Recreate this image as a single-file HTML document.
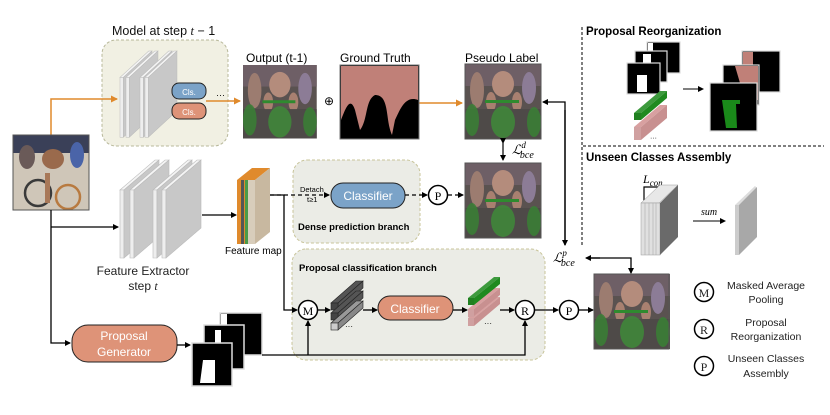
<!DOCTYPE html>
<html><head><meta charset="utf-8"><style>
html,body{margin:0;padding:0;background:#fff;}
svg{display:block;font-family:"Liberation Sans",sans-serif;}
</style></head><body>
<svg width="830" height="415" viewBox="0 0 830 415" xmlns="http://www.w3.org/2000/svg">
<defs>
<marker id="ab" markerWidth="6" markerHeight="6" refX="5" refY="3" orient="auto" markerUnits="userSpaceOnUse"><path d="M0,0 L6,3 L0,6 z" fill="#000"/></marker>
<marker id="ao" markerWidth="7" markerHeight="7" refX="6" refY="3.5" orient="auto" markerUnits="userSpaceOnUse"><path d="M0,0 L7,3.5 L0,7 z" fill="#e08a2c"/></marker>
<g id="photo">
<rect x="0" y="0" width="76" height="75" fill="#5a5250"/>
<rect x="0" y="0" width="76" height="22" fill="#6e5f66"/>
<ellipse cx="38" cy="20" rx="11" ry="13" fill="#b48c7c"/>
<ellipse cx="12" cy="26" rx="7" ry="18" fill="#9c7c70"/>
<ellipse cx="64" cy="24" rx="7" ry="16" fill="#8c7c96"/>
<ellipse cx="26" cy="38" rx="5" ry="10" fill="#a88070"/>
<ellipse cx="52" cy="38" rx="5" ry="10" fill="#a88070"/>
<rect x="0" y="45" width="76" height="30" fill="#4e4a48"/>
<ellipse cx="38" cy="58" rx="12" ry="16" fill="#3f8a3a" opacity="0.85"/>
<ellipse cx="7" cy="56" rx="7" ry="16" fill="#3a8035" opacity="0.85"/>
<ellipse cx="69" cy="58" rx="7" ry="15" fill="#3a8035" opacity="0.85"/>
<rect x="20" y="36" width="34" height="3" fill="#2f8a2f"/>
</g>
<g id="slab">
<polygon points="0,30 4,30 39,0 35,0" fill="#f4f4f4" stroke="#bbb" stroke-width="0.6"/>
<polygon points="0,30 4,30 4,98 0,98" fill="#eee" stroke="#bbb" stroke-width="0.6"/>
<polygon points="4,30 39,0 39,68 4,98" fill="#c8c8c8" stroke="#bbb" stroke-width="0.6"/>
</g>
</defs>

<!-- Model at step t-1 -->
<text x="112" y="35" font-size="12.5" fill="#111">Model at step <tspan font-family="Liberation Serif" font-style="italic">t</tspan> − 1</text>
<rect x="102" y="40" width="126" height="106" rx="14" fill="#f1f0e3" stroke="#b8b89a" stroke-dasharray="3,2"/>
<g transform="translate(120,51) scale(0.82,0.88)"><use href="#slab"/></g>
<g transform="translate(126,51) scale(0.82,0.88)"><use href="#slab"/></g>
<g transform="translate(140,51) scale(0.82,0.88)"><use href="#slab"/></g>
<g transform="translate(145,51) scale(0.82,0.88)"><use href="#slab"/></g>
<rect x="172" y="83" width="34" height="16" rx="7" fill="#7ba3c8" stroke="#222" stroke-width="1"/>
<text x="189" y="95" font-size="8" fill="#fff" text-anchor="middle">Cls.</text>
<rect x="172" y="103" width="34" height="16" rx="7" fill="#de9378" stroke="#222" stroke-width="1"/>
<text x="189" y="115" font-size="8" fill="#fff" text-anchor="middle">Cls.</text>
<text x="216" y="98" font-size="9">···</text>

<!-- orange arrows -->
<polyline points="51,135 51,99 117,99" fill="none" stroke="#e08a2c" stroke-width="1.5" marker-end="url(#ao)"/>
<line x1="206" y1="101" x2="240" y2="101" stroke="#e08a2c" stroke-width="1.5" marker-end="url(#ao)"/>
<line x1="419" y1="103" x2="462" y2="103" stroke="#e08a2c" stroke-width="1.5" marker-end="url(#ao)"/>

<!-- Output, GT -->
<text x="246" y="62" font-size="12">Output (t-1)</text>
<g transform="translate(243,65) scale(0.97,0.98)"><use href="#photo"/></g>
<text x="329" y="105" font-size="12" text-anchor="middle">⊕</text>
<text x="340" y="62" font-size="12">Ground Truth</text>
<rect x="340" y="65" width="79" height="74" fill="#000" stroke="#777"/>
<path d="M341,66 H418 V100 C405,95 400,110 395,120 L392,135 C385,120 390,95 375,95 C365,100 368,120 360,130 L355,110 C350,95 345,110 341,120 Z" fill="#c08078"/>

<!-- Pseudo label -->
<text x="465" y="62" font-size="12">Pseudo Label</text>
<use href="#photo" x="465" y="64"/>
<rect x="465" y="64" width="76" height="75" fill="none" stroke="#555"/>
<line x1="503" y1="143" x2="503" y2="160" stroke="#000" stroke-width="1.2" marker-start="url(#ab)" marker-end="url(#ab)"/>
<text x="512" y="154" font-size="13" font-family="Liberation Serif" font-style="italic">ℒ<tspan font-size="9" dy="-6">d</tspan><tspan font-size="10" dx="-6" dy="10">bce</tspan></text>
<use href="#photo" x="465" y="163"/>
<rect x="465" y="163" width="76" height="75" fill="none" stroke="#555"/>

<!-- input image -->
<g transform="translate(13,135)"><rect width="76" height="75" fill="#cfc6b8"/><rect width="76" height="18" fill="#3a4058"/><ellipse cx="40" cy="24" rx="11" ry="10" fill="#9a6a4c"/><ellipse cx="64" cy="20" rx="7" ry="13" fill="#4a64a8"/><ellipse cx="14" cy="22" rx="8" ry="12" fill="#6a5a58"/><circle cx="25" cy="58" r="13" fill="none" stroke="#3a3a3a" stroke-width="2.5"/><circle cx="55" cy="62" r="12" fill="none" stroke="#b87a40" stroke-width="2.5"/><rect x="32" y="38" width="5" height="30" fill="#a87858"/></g>
<rect x="13" y="135" width="76" height="75" fill="none" stroke="#555"/>

<!-- feature extractor -->
<g transform="translate(120,160)"><use href="#slab"/></g>
<g transform="translate(130,160)"><use href="#slab"/></g>
<g transform="translate(153,160)"><use href="#slab"/></g>
<g transform="translate(162,160)"><use href="#slab"/></g>
<text x="143" y="275" font-size="12" text-anchor="middle" fill="#222">Feature Extractor</text>
<text x="143" y="290" font-size="12" text-anchor="middle" fill="#222">step <tspan font-family="Liberation Serif" font-style="italic">t</tspan></text>
<polyline points="51,210 51,343 70,343" fill="none" stroke="#000" stroke-width="1.3" marker-end="url(#ab)"/>
<line x1="51" y1="227" x2="118" y2="227" stroke="#000" stroke-width="1.3" marker-end="url(#ab)"/>
<line x1="202" y1="215" x2="236" y2="215" stroke="#000" stroke-width="1.3" marker-end="url(#ab)"/>

<!-- feature map -->
<polygon points="237,180 252,168 270,168 255,180" fill="#e08a2c"/>
<rect x="237" y="180" width="18" height="64" fill="#e08a2c"/>
<rect x="241" y="180" width="3" height="64" fill="#555"/>
<rect x="245" y="180" width="3" height="64" fill="#4a9a4a"/>
<polygon points="255,180 270,168 270,232 255,244" fill="#c8b8a0"/>
<rect x="248" y="180" width="7" height="64" fill="#d8cdbb"/>
<text x="225" y="254" font-size="10">Feature map</text>

<!-- dense branch -->
<rect x="293" y="160" width="127" height="83" rx="14" fill="#ebece6" stroke="#c8c49a" stroke-dasharray="3,2"/>
<line x1="270" y1="195" x2="329" y2="195" stroke="#000" stroke-width="1.3" stroke-dasharray="4,3" marker-end="url(#ab)"/>
<text x="300" y="192" font-size="7.5">Detach</text>
<text x="307" y="202" font-size="7.5">t≥1</text>
<rect x="331" y="183" width="74" height="25" rx="12" fill="#7ba3c8" stroke="#222"/>
<text x="368" y="200" font-size="12" fill="#fff" text-anchor="middle">Classifier</text>
<line x1="405" y1="195" x2="427" y2="195" stroke="#000" stroke-width="1.3" stroke-dasharray="4,3" marker-end="url(#ab)"/>
<circle cx="438" cy="195" r="9.5" fill="#fff" stroke="#000" stroke-width="1.5"/>
<text x="438" y="200" font-size="12" font-family="Liberation Serif" text-anchor="middle">P</text>
<line x1="448" y1="195" x2="463" y2="195" stroke="#000" stroke-width="1.3" stroke-dasharray="4,3" marker-end="url(#ab)"/>
<text x="298" y="230" font-size="9.5" font-weight="bold">Dense prediction branch</text>

<!-- proposal branch -->
<rect x="292" y="249" width="253" height="111" rx="14" fill="#ebece6" stroke="#c8c49a" stroke-dasharray="3,2"/>
<text x="299" y="271" font-size="9.5" font-weight="bold">Proposal classification branch</text>
<polyline points="270,195 284,195 284,310 297,310" fill="none" stroke="#000" stroke-width="1.3" marker-end="url(#ab)"/>
<circle cx="308" cy="310" r="9.5" fill="#fff" stroke="#000" stroke-width="1.5"/>
<text x="308" y="315" font-size="12" font-family="Liberation Serif" text-anchor="middle">M</text>
<line x1="318" y1="310" x2="330" y2="310" stroke="#000" stroke-width="1.3" marker-end="url(#ab)"/>
<g fill="#555" stroke="#222" stroke-width="0.6">
<polygon points="331,303 356,281 363,281 338,303"/><polygon points="338,303 363,281 363,288 338,310"/><rect x="331" y="303" width="7" height="7" fill="#444"/>
<polygon points="331,313 356,291 363,291 338,313"/><polygon points="338,313 363,291 363,298 338,320"/><rect x="331" y="313" width="7" height="7" fill="#444"/>
<polygon points="331,323 356,301 363,301 338,323" fill="#999"/><polygon points="338,323 363,301 363,308 338,330" fill="#888"/><rect x="331" y="323" width="7" height="7" fill="#ccc"/>
</g>
<text x="345" y="329" font-size="8">···</text>
<line x1="363" y1="310" x2="377" y2="310" stroke="#000" stroke-width="1.3" marker-end="url(#ab)"/>
<rect x="378" y="296" width="75" height="24" rx="12" fill="#de9378" stroke="#222"/>
<text x="415" y="313" font-size="12" fill="#fff" text-anchor="middle">Classifier</text>
<line x1="453" y1="310" x2="467" y2="310" stroke="#000" stroke-width="1.3" marker-end="url(#ab)"/>
<g>
<polygon points="468,318 494,297 500,297 474,318" fill="#d8a0a0"/><polygon points="474,318 500,297 500,304 474,326" fill="#c89090"/><rect x="468" y="318" width="6" height="8" fill="#d0a0a0"/>
<polygon points="468,309 494,288 500,288 474,309" fill="#d8a0a0"/><polygon points="474,309 500,288 500,295 474,316" fill="#c89090"/><rect x="468" y="309" width="6" height="8" fill="#d0a0a0"/>
<polygon points="468,298 494,277 500,277 474,298" fill="#3d9a3d"/><polygon points="474,298 500,277 500,284 474,305" fill="#1f8a1f"/><rect x="468" y="298" width="6" height="7" fill="#208020"/>
</g>
<text x="484" y="326" font-size="8">···</text>
<line x1="500" y1="310" x2="514" y2="310" stroke="#000" stroke-width="1.3" marker-end="url(#ab)"/>
<circle cx="525" cy="310" r="9.5" fill="#fff" stroke="#000" stroke-width="1.5"/>
<text x="525" y="315" font-size="12" font-family="Liberation Serif" text-anchor="middle">R</text>
<line x1="535" y1="310" x2="558" y2="310" stroke="#000" stroke-width="1.3" marker-end="url(#ab)"/>
<circle cx="569" cy="310" r="9.5" fill="#fff" stroke="#000" stroke-width="1.5"/>
<text x="569" y="315" font-size="12" font-family="Liberation Serif" text-anchor="middle">P</text>
<line x1="579" y1="310" x2="593" y2="310" stroke="#000" stroke-width="1.3" marker-end="url(#ab)"/>

<!-- proposal generator + masks -->
<rect x="72" y="325" width="105" height="37" rx="16" fill="#de9378" stroke="#222"/>
<text x="124" y="340" font-size="12" fill="#fff" text-anchor="middle">Proposal</text>
<text x="124" y="356" font-size="12" fill="#fff" text-anchor="middle">Generator</text>
<line x1="177" y1="345" x2="190" y2="345" stroke="#000" stroke-width="1.3" marker-end="url(#ab)"/>
<rect x="220" y="313" width="42" height="42" fill="#000" stroke="#ddd" stroke-width="1.5"/><rect x="221" y="314" width="6" height="20" fill="#fff"/>
<rect x="204" y="325" width="40" height="44" fill="#000" stroke="#ddd" stroke-width="1.5"/><rect x="215" y="330" width="6" height="15" fill="#fff"/>
<rect x="192" y="343" width="40" height="43" fill="#000" stroke="#ddd" stroke-width="1.5"/><path d="M203,360 H215 V383 H200 Z" fill="#fff"/>
<polyline points="262,355 525,355 525,321" fill="none" stroke="#000" stroke-width="1.3" marker-end="url(#ab)"/>
<line x1="308" y1="355" x2="308" y2="321" stroke="#000" stroke-width="1.3" marker-end="url(#ab)"/>

<!-- final image & loss -->
<use href="#photo" x="594" y="274"/>
<rect x="594" y="274" width="75" height="75" fill="none" stroke="#555"/>
<polyline points="565,245 565,102 543,102" fill="none" stroke="#000" stroke-width="1.3" marker-end="url(#ab)"/>
<line x1="565" y1="110" x2="565" y2="245" stroke="#000" stroke-width="1.3" marker-end="url(#ab)"/>
<text x="553" y="262" font-size="13" font-family="Liberation Serif" font-style="italic">ℒ<tspan font-size="9" dy="-6">p</tspan><tspan font-size="10" dx="-6" dy="10">bce</tspan></text>
<polyline points="587,258 631,258 631,273" fill="none" stroke="#000" stroke-width="1.3" marker-end="url(#ab)"/>
<line x1="600" y1="258" x2="586" y2="258" stroke="#000" stroke-width="1.3" marker-end="url(#ab)"/>

<!-- right panels -->
<line x1="582" y1="27" x2="582" y2="245" stroke="#000" stroke-dasharray="3,2"/>
<line x1="583" y1="146" x2="824" y2="146" stroke="#000" stroke-dasharray="3,2"/>
<text x="586" y="35" font-size="11.5" font-weight="bold">Proposal Reorganization</text>
<rect x="647" y="42" width="33" height="31" fill="#000" stroke="#ddd" stroke-width="1.2"/><rect x="648" y="43" width="5" height="12" fill="#fff"/>
<rect x="635" y="51" width="32" height="31" fill="#000" stroke="#ddd" stroke-width="1.2"/><rect x="643" y="54" width="8" height="12" fill="#fff"/>
<rect x="627" y="63" width="33" height="31" fill="#000" stroke="#ddd" stroke-width="1.2"/><path d="M637,75 H647 V92 H637 Z" fill="#fff"/>
<g>
<polygon points="634,127 660,105 667,105 641,127" fill="#d8a0a0"/><polygon points="641,127 667,105 667,118 641,140" fill="#c89090"/><rect x="634" y="127" width="7" height="13" fill="#d0a0a0"/>
<polygon points="634,113 660,91 667,91 641,113" fill="#3d9a3d"/><polygon points="641,113 667,91 667,98 641,120" fill="#1f8a1f"/><rect x="634" y="113" width="7" height="7" fill="#208020"/>
</g>
<text x="650" y="140" font-size="7">···</text>
<line x1="683" y1="89" x2="703" y2="89" stroke="#000" stroke-width="1" marker-end="url(#ab)"/>
<rect x="742" y="51" width="38" height="41" fill="#000" stroke="#ddd" stroke-width="1.2"/><rect x="743" y="52" width="10" height="30" fill="#c08078"/>
<rect x="723" y="65" width="36" height="40" fill="#000" stroke="#ddd" stroke-width="1.2"/><path d="M735,66 H758 V100 H745 Z" fill="#c08078"/>
<rect x="710" y="83" width="47" height="48" fill="#000" stroke="#ddd" stroke-width="1.2"/><path d="M722,100 H740 V104 H736 L737,128 H726 Z" fill="#1a8a1a"/>

<text x="586" y="161" font-size="11.5" font-weight="bold">Unseen Classes Assembly</text>
<text x="643" y="183" font-size="12" font-family="Liberation Serif" font-style="italic">L<tspan font-size="9" dy="3">con</tspan></text>
<polyline points="644,203 644,187 658,187 658,201" fill="none" stroke="#000" stroke-width="1.2"/>
<polygon points="641,203 660,185 678,185 659,203" fill="#e8e8e8" stroke="#999" stroke-width="0.5"/>
<rect x="641" y="203" width="19" height="52" fill="#e0e0e0" stroke="#999" stroke-width="0.5"/>
<g stroke="#aaa" stroke-width="0.6"><line x1="645" y1="203" x2="645" y2="255"/><line x1="649" y1="203" x2="649" y2="255"/><line x1="653" y1="203" x2="653" y2="255"/><line x1="656" y1="203" x2="656" y2="255"/></g>
<polygon points="660,203 678,185 678,237 660,255" fill="#6a6a6a"/>
<text x="701" y="215" font-size="10" font-family="Liberation Serif" font-style="italic">sum</text>
<line x1="693" y1="221" x2="725" y2="221" stroke="#000" stroke-width="1" marker-end="url(#ab)"/>
<polygon points="735,205 755,186 757,188 737,207" fill="#ddd"/>
<polygon points="735,205 739,205 739,255 735,255" fill="#ccc"/>
<polygon points="739,205 757,187 757,237 739,255" fill="#a8a8a8"/>

<!-- legend -->
<g font-size="10.5" fill="#222" text-anchor="middle">
<circle cx="704" cy="292" r="9.5" fill="#fff" stroke="#000" stroke-width="1.5"/><text x="704" y="297" font-size="12" font-family="Liberation Serif">M</text>
<text x="766" y="289">Masked Average</text><text x="766" y="303">Pooling</text>
<circle cx="704" cy="329" r="9.5" fill="#fff" stroke="#000" stroke-width="1.5"/><text x="704" y="334" font-size="12" font-family="Liberation Serif">R</text>
<text x="766" y="326">Proposal</text><text x="766" y="340">Reorganization</text>
<circle cx="704" cy="366" r="9.5" fill="#fff" stroke="#000" stroke-width="1.5"/><text x="704" y="371" font-size="12" font-family="Liberation Serif">P</text>
<text x="766" y="362">Unseen Classes</text><text x="766" y="377">Assembly</text>
</g>
</svg>
</body></html>
